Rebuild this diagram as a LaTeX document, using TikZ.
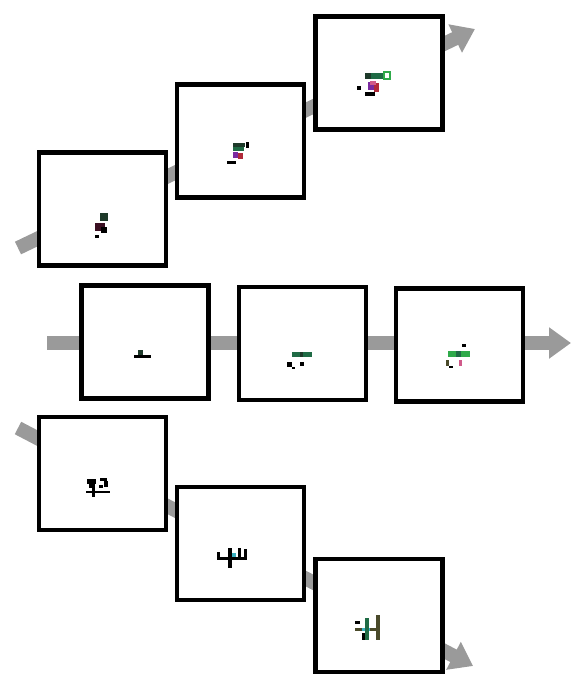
\documentclass[tikz,border=0pt]{standalone}
\usepackage{tikz}
\usetikzlibrary{arrows.meta, positioning}
\definecolor{flowgray}{HTML}{9A9A9A}
\definecolor{spritegreen}{HTML}{1F6B45}
\definecolor{spritedark}{HTML}{1E3A2A}
\definecolor{spritelime}{HTML}{2FAA4A}
\definecolor{spritemaroon}{HTML}{3B0F22}
\definecolor{spritepurple}{HTML}{7A2AA0}
\definecolor{spritered}{HTML}{B02A3A}
\definecolor{spritepink}{HTML}{D05A8A}
\definecolor{spriteteal}{HTML}{3AB0C0}
\definecolor{spriteolive}{HTML}{4A4A2A}
\tikzset{
    panel/.style={rectangle, draw=black, line width=4.2pt, fill=white, minimum width=127pt, minimum height=113pt, inner sep=0pt},
    flowarrow/.style={-{Triangle[length=22pt, width=30pt]}, line width=14pt, draw=flowgray}
}

\begin{document}
\begin{tikzpicture}[x=1pt, y=-1pt]
    \useasboundingbox (0,0) rectangle (572,677);
    % ends of the three flow lines
    \coordinate (upin) at (18,248);
    \coordinate (upout) at (475,29);
    \coordinate (midin) at (47,343);
    \coordinate (midout) at (571,343);
    \coordinate (downin) at (18,428);
    \coordinate (downout) at (473,666);
    \draw[flowarrow] (upin) -- (upout);
    \draw[flowarrow] (midin) -- (midout);
    \draw[flowarrow] (downin) -- (downout);

    % rising row
    \node[panel] (up1) at (102.5,209) {};
    \node[panel, right=7pt of up1, yshift=68pt] (up2) {};
    \node[panel, right=7pt of up2, yshift=68pt] (up3) {};
    % straight row
    \node[panel] (mid1) at (145,342) {};
    \node[panel, right=26pt of mid1, yshift=-1.5pt] (mid2) {};
    \node[panel, right=26pt of mid2, yshift=-1.5pt] (mid3) {};
    % falling row
    \node[panel] (down1) at (102.5,473.5) {};
    \node[panel, right=7pt of down1, yshift=-70pt] (down2) {};
    \node[panel, right=7pt of down2, yshift=-72pt] (down3) {};

    % sprites, rising row
    \fill[spritedark] (100,213) rectangle (108,221);
    \fill[spritemaroon] (95,223) rectangle (105,231);
    \fill[black] (101,227) rectangle (107,233);
    \fill[black] (95,235) rectangle (99,238);

    \fill[spritedark] (233,143) rectangle (245,147);
    \fill[black] (246,142) rectangle (249,148);
    \fill[spritegreen] (233,147) rectangle (244,151);
    \fill[spritepurple] (233,152) rectangle (238,158);
    \fill[spritered] (238,153) rectangle (243,159);
    \fill[black] (227,161) rectangle (236,164);

    \fill[spritegreen] (365,73) rectangle (383,79);
    \fill[spritedark] (365,73) rectangle (371,79);
    \draw[spritelime, line width=1.5pt] (384,72) rectangle (390,79);
    \fill[spritepurple] (368,82) rectangle (374,90);
    \fill[spritered] (374,83) rectangle (379,92);
    \fill[spritepink] (370,81) rectangle (376,85);
    \fill[black] (357,86) rectangle (361,90);
    \fill[black] (365,92) rectangle (375,96);

    % sprites, straight row
    \fill[spritedark] (138,350) rectangle (143,355);
    \fill[black] (134,355) rectangle (151,358);

    \fill[spritegreen] (292,352) rectangle (312,357);
    \fill[spritedark] (300,352) rectangle (303,357);
    \fill[black] (287,362) rectangle (292,367);
    \fill[black] (300,362) rectangle (304,366);
    \fill[black] (292,367) rectangle (295,369);

    \fill[black] (462,344) rectangle (466,347);
    \fill[spritelime] (448,351) rectangle (470,357);
    \fill[spritegreen] (456,351) rectangle (461,357);
    \fill[spriteolive] (446,360) rectangle (449,366);
    \fill[black] (449,366) rectangle (453,368);
    \fill[spritepink] (459,360) rectangle (462,366);

    % sprites, falling row
    \fill[black] (87,479) rectangle (96,484);
    \fill[black] (89,484) rectangle (95,488);
    \fill[black] (92,488) rectangle (95,497);
    \fill[black] (100,478) rectangle (107,481);
    \fill[black] (104,481) rectangle (108,487);
    \fill[black] (99,485) rectangle (103,488);
    \fill[black] (86,491) rectangle (110,493);

    \fill[black] (217,552) rectangle (220,560);
    \fill[black] (217,557) rectangle (247,560);
    \fill[black] (228,548) rectangle (232,568);
    \fill[spriteteal] (232,553) rectangle (236,557);
    \fill[black] (238,548) rectangle (241,558);
    \fill[black] (244,549) rectangle (247,558);

    \fill[black] (355,621) rectangle (360,624);
    \fill[spriteolive] (355,628) rectangle (377,631);
    \fill[spriteteal] (362,628) rectangle (370,631);
    \fill[spritegreen] (365,618) rectangle (369,640);
    \fill[spriteolive] (376,615) rectangle (380,640);
    \fill[black] (362,633) rectangle (365,640);
\end{tikzpicture}
\end{document}
